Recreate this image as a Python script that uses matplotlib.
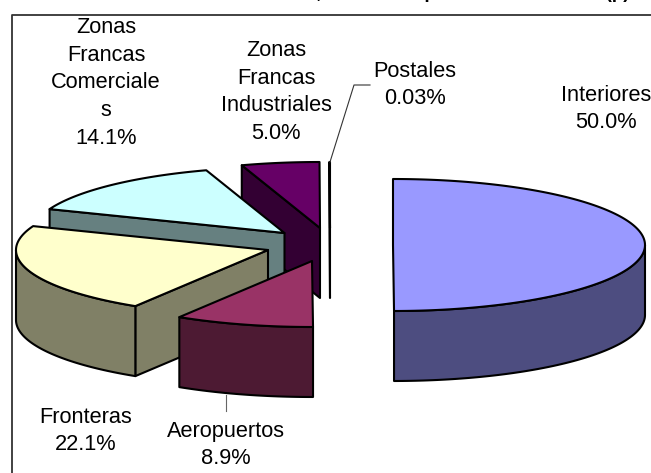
import numpy as np
import matplotlib
matplotlib.use('Agg')
import matplotlib.pyplot as plt

plt.rcParams['font.family'] = ['Liberation Sans', 'DejaVu Sans']

names = ['Interiores', 'Aeropuertos', 'Fronteras', 'Zonas Francas Comerciales',
         'Zonas Francas Industriales', 'Postales']
values = [50.0, 8.9, 22.1, 14.1, 5.0, 0.03]
title = 'Recintos Fiscales en Aduanas, Área de Superficie de Almacén (p)'

top_colors = ['#9999FF', '#993366', '#FFFFCC', '#CCFFFF', '#660066', '#FF8080']
side_colors = ['#4D4D80', '#4D1A33', '#808066', '#668080', '#330033', '#804040']

# pixel geometry of the exploded 3d pie
centers = [(393, 245), (312, 261), (268, 250), (284.5, 233), (320, 228), (330, 228)]
rx, ry, depth = 252, 66, 70

label_text = ['Interiores\n50.0%', 'Aeropuertos\n8.9%', 'Fronteras\n22.1%',
              'Zonas\nFrancas\nComerciale\ns\n14.1%',
              'Zonas\nFrancas\nIndustriales\n5.0%', 'Postales\n0.03%']
label_pos = [(606, 109), (226, 445), (86, 431), (106, 83), (276, 92), (415, 85)]

fig = plt.figure(figsize=(6.51, 4.73), dpi=100)
ax = fig.add_axes([0, 0, 1, 1])
ax.set_xlim(0, 651)
ax.set_ylim(473, 0)
ax.axis('off')

ax.plot([11.5, 11.5, 651], [473, 15, 15], color='#333333', lw=1.3, zorder=1)

bounds = np.concatenate([[0], np.cumsum(values)]) / np.sum(values) * 2 * np.pi


def rim(c, a, b, dz=0):
    t = np.linspace(a, b, max(2, int((b - a) * 60)))
    return c[0] + rx * np.sin(t), c[1] - ry * np.cos(t) + dz


def face(xs, ys, color, z):
    ax.fill(xs, ys, facecolor=color, edgecolor='black', lw=1.5,
            joinstyle='round', zorder=z)


for z, i in enumerate([5, 4, 3, 2, 1, 0]):
    a, b = bounds[i], bounds[i + 1]
    c = centers[i]
    zz = 2 + z
    # cut face on the start side
    if np.pi < a < 2 * np.pi:
        ex, ey = rim(c, a, a)
        ex, ey = ex[0], ey[0]
        face([ex, c[0], c[0], ex], [ey, c[1], c[1] + depth, ey + depth], side_colors[i], zz)
    # outer wall, only the front half of the rim shows
    lo, hi = max(a, np.pi / 2), min(b, 3 * np.pi / 2)
    if lo < hi:
        x1, y1 = rim(c, lo, hi)
        x2, y2 = rim(c, lo, hi, depth)
        face(np.r_[x1, x2[::-1]], np.r_[y1, y2[::-1]], side_colors[i], zz)
    # top of the slice
    x1, y1 = rim(c, a, b)
    face(np.r_[c[0], x1], np.r_[c[1], y1], top_colors[i], zz)

# leader lines
ax.plot([330, 354, 370], [162, 85, 85], color='#333333', lw=0.8, zorder=9)
ax.plot([226, 226], [395, 411], color='#666666', lw=0.8, zorder=9)

for txt, (lx, ly) in zip(label_text, label_pos):
    ax.text(lx, ly, txt, ha='center', va='center', fontsize=15.7, linespacing=1.43,
            color='black', zorder=10)

ax.text(339, -1.5, title, ha='center', va='baseline', fontsize=13.5, fontweight='bold',
        color='black', clip_on=False)

fig.savefig('out.png', dpi=100)
